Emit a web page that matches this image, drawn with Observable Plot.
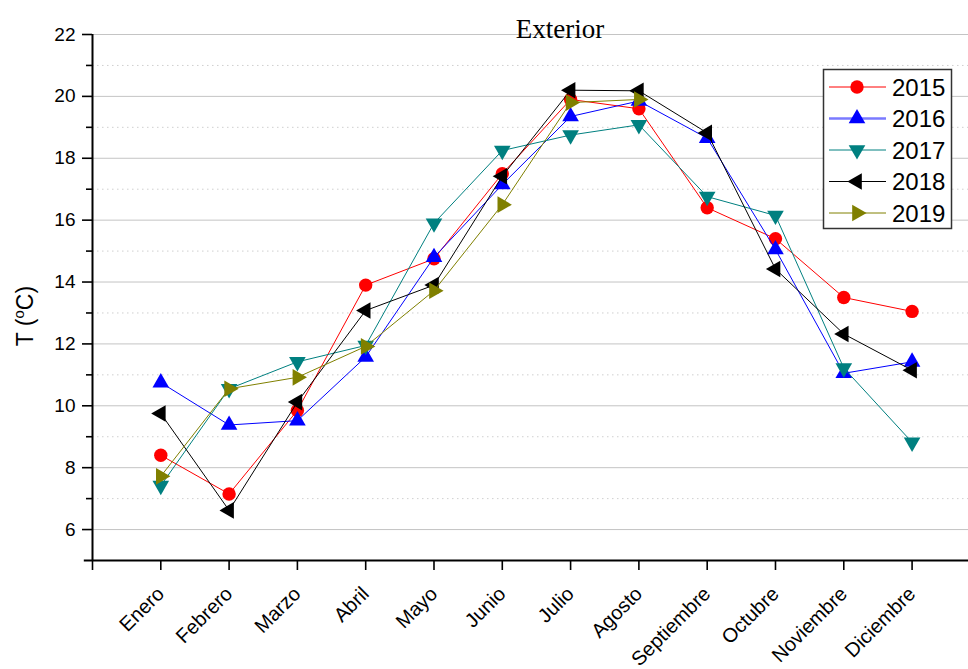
<!DOCTYPE html>
<html>
<head>
<meta charset="utf-8">
<script src="https://cdn.jsdelivr.net/npm/d3@7"></script>
<script src="https://cdn.jsdelivr.net/npm/@observablehq/plot@0.6"></script>
<style>
  html, body { margin: 0; padding: 0; background: #fff; }
  #chart { width: 968px; height: 669px; overflow: hidden; }
</style>
</head>
<body>
<div id="chart"></div>
<script>
const months = ["Enero","Febrero","Marzo","Abril","Mayo","Junio","Julio","Agosto","Septiembre","Octubre","Noviembre","Diciembre"];
const years = ["2015","2016","2017","2018","2019"];
const colors = ["#ff0000","#0000ff","#008080","#000000","#808000"];
const y2015 = [8.4, 7.15, 9.85, 13.9, 14.75, 17.5, 19.9, 19.6, 16.4, 15.4, 13.5, 13.05];
const y2016 = [10.75, 9.38, 9.52, 11.58, 14.8, 17.15, 19.35, 19.85, 18.65, 15.05, 11.05, 11.42];
const y2017 = [7.42, 10.55, 11.42, 11.95, 15.9, 18.25, 18.75, 19.08, 16.76, 16.15, 11.22, 8.82];
const y2018 = [9.75, 6.62, 10.12, 13.08, 13.9, 17.42, 20.2, 20.18, 18.82, 14.42, 12.32, 11.15];
const y2019 = [7.72, 10.55, 10.92, 11.92, 13.72, 16.5, 19.8, 19.9];
const yMajor = [6, 8, 10, 12, 14, 16, 18, 20, 22];
const yMinor = [7, 9, 11, 13, 15, 17, 19, 21];
const xTicks = [0, 1, 2, 3, 4, 5, 6, 7, 8, 9, 10, 11, 12];

const seriesValues = [y2015, y2016, y2017, y2018, y2019];

function tri(angleDeg) {
  return {
    draw(ctx, size) {
      const r = Math.sqrt(size / Math.PI);
      for (let k = 0; k < 3; k++) {
        const a = (angleDeg + 120 * k) * Math.PI / 180;
        const x = r * Math.cos(a), y = r * Math.sin(a);
        if (k === 0) ctx.moveTo(x, y); else ctx.lineTo(x, y);
      }
      ctx.closePath();
    }
  };
}
const symbols = ["circle", tri(-90), tri(90), tri(180), tri(0)];
const radii = [6.7, 9.6, 9.6, 9.6, 9.6];

const data = [];
seriesValues.forEach((vals, i) => {
  vals.forEach((v, j) => data.push({year: years[i], m: j + 1, t: v}));
});

const marks = [
  Plot.gridY(yMajor, {stroke: "#c4c4c4", strokeOpacity: 1, strokeWidth: 1}),
  Plot.gridY(yMinor, {stroke: "#cfcfcf", strokeOpacity: 1, strokeWidth: 1, strokeDasharray: "1.5,3.5"}),
  Plot.axisY({ticks: yMajor, tickSize: 10, tickPadding: 7, strokeWidth: 1.6, fontSize: 19, label: null}),
  Plot.axisY({ticks: yMinor, tickSize: 6, tickFormat: () => "", strokeWidth: 1.6, label: null}),
  Plot.axisX({ticks: xTicks, tickSize: 10, tickPadding: 20, tickRotate: -45, strokeWidth: 1.6, fontSize: 20,
              tickFormat: d => d >= 1 ? months[d - 1] : "", label: null}),
  Plot.ruleX([0], {y1: 5, y2: 22, stroke: "black", strokeWidth: 2}),
  Plot.ruleY([5], {x1: -0.12, x2: 12.83, stroke: "black", strokeWidth: 2})
];
years.forEach((yr, i) => {
  const d = data.filter(r => r.year === yr);
  marks.push(Plot.line(d, {x: "m", y: "t", stroke: colors[i], strokeWidth: 1}));
  marks.push(Plot.dot(d, {x: "m", y: "t", fill: colors[i], stroke: "none", symbol: symbols[i], r: radii[i]}));
});

const plot = Plot.plot({
  width: 968,
  height: 669,
  marginLeft: 92,
  marginRight: 0,
  marginTop: 34,
  marginBottom: 109,
  style: {fontFamily: "'Liberation Sans', Arial, sans-serif", fontSize: "18px", color: "#000", background: "#fff"},
  x: {type: "linear", domain: [0, 12.826], label: null},
  y: {domain: [5, 22], label: null},
  marks
});
document.getElementById("chart").appendChild(plot);

const svg = d3.select(plot);
svg.selectAll('g[aria-label="y-axis tick label"]').attr("font-size", 19).selectAll("text").attr("font-size", 19);
svg.selectAll('g[aria-label="x-axis tick label"]').attr("font-size", 20).selectAll("text").attr("font-size", 20);

// Title
svg.append("text")
  .attr("x", 560).attr("y", 38)
  .attr("text-anchor", "middle")
  .attr("font-family", "'Liberation Serif', 'Times New Roman', serif")
  .attr("font-size", 27)
  .attr("fill", "#000")
  .text("Exterior");
// Y label
const yl = svg.append("text")
  .attr("transform", "translate(33,316) rotate(-90)")
  .attr("text-anchor", "middle")
  .attr("font-family", "'Liberation Sans', Arial, sans-serif")
  .attr("font-size", 23)
  .attr("fill", "#000");
yl.append("tspan").text("T (");
yl.append("tspan").attr("font-size", 15).attr("dy", -9).text("o");
yl.append("tspan").attr("dy", 9).text("C)");

// Legend
const lg = svg.append("g");
lg.append("rect").attr("x", 823.5).attr("y", 69.5).attr("width", 128).attr("height", 159)
  .attr("fill", "#fff").attr("stroke", "#333").attr("stroke-width", 1.5);
years.forEach((yr, i) => {
  const cy = 87 + i * 31.5;
  lg.append("line").attr("x1", 829).attr("x2", 886).attr("y1", cy).attr("y2", cy)
    .attr("stroke", i === 1 ? "#7a7aff" : colors[i]).attr("stroke-width", i === 1 ? 2.5 : 1);
  const p = d3.path();
  const sym = symbols[i] === "circle" ? d3.symbolCircle : symbols[i];
  sym.draw(p, radii[i] * radii[i] * Math.PI);
  lg.append("path").attr("d", p.toString()).attr("transform", `translate(857,${cy})`).attr("fill", colors[i]);
  lg.append("text").attr("x", 892).attr("y", cy).attr("dy", "0.36em")
    .attr("text-anchor", "start")
    .attr("font-family", "'Liberation Sans', Arial, sans-serif").attr("font-size", 24).attr("fill", "#000")
    .text(yr);
});
</script>
</body>
</html>
